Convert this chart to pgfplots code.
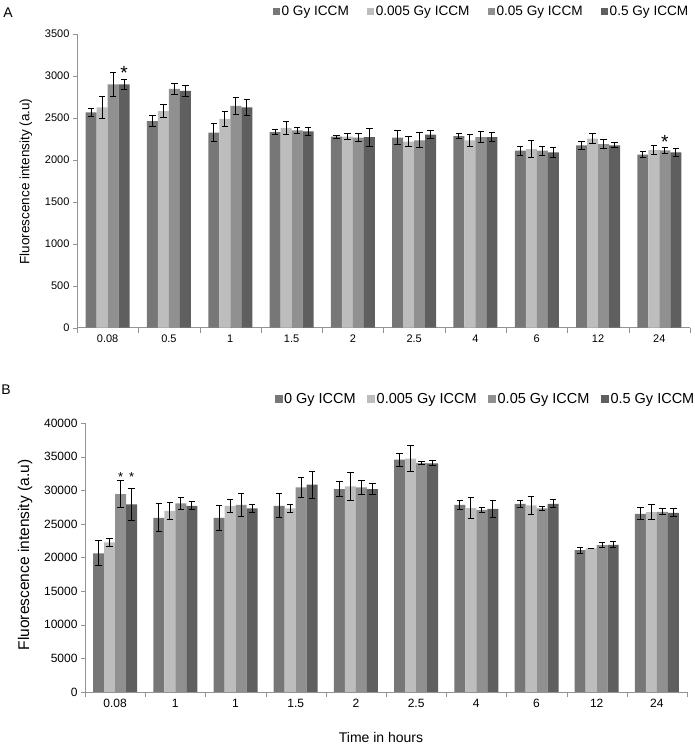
\documentclass[border=0pt]{standalone}
\usepackage{pgfplots}
\usepackage{pgfplotstable}
\pgfplotsset{compat=1.18}
\usepackage{fontspec}
\setmainfont{Liberation Sans}
\definecolor{cA}{HTML}{777777}
\definecolor{cB}{HTML}{BDBDBD}
\definecolor{cC}{HTML}{909090}
\definecolor{cD}{HTML}{5F5F5F}
\pgfplotstableread{
x a ea b eb c ec d ed
0 2566 50 2626 135 2900 145 2900 60
1 2463 70 2582 75 2845 62 2821 67
2 2324 110 2487 90 2642 97 2626 97
3 2332 24 2380 72 2352 34 2340 46
4 2276 16 2276 36 2264 46 2272 107
5 2264 80 2217 60 2233 90 2300 46
6 2284 26 2233 68 2272 62 2272 52
7 2109 54 2129 103 2109 54 2089 58
8 2173 44 2252 58 2189 56 2173 28
9 2062 34 2117 58 2113 38 2089 46
}\topdata
\pgfplotstableread{
x a ea b eb c ec d ed
0 20596 1860 22233 550 29429 2000 27890 2350
1 25906 2100 26948 1240 28040 920 27692 600
2 25906 1890 27692 990 27841 1710 27295 600
3 27692 1790 27295 570 30422 1540 30819 2030
4 30174 1070 30571 2060 30422 1070 30174 840
5 34541 970 34690 1960 34045 270 33995 370
6 27841 650 27345 1560 27097 350 27246 1240
7 27990 520 27742 1340 27295 270 27990 620
8 21092 450 21340 60 21836 350 21886 470
9 26501 890 26749 1120 26799 420 26650 600
}\botdata
\pgfplotsset{
  excel/.style={
    scale only axis,
    ybar=0pt, bar width=11pt,
    xmin=-0.5, xmax=9.5,
    xtick={0,...,9},
    major x tick style={draw=none},
    minor xtick={-0.5,0.5,...,9.5},
    minor tick length=5pt,
    major tick length=4pt,
    axis x line*=bottom, axis y line*=left,
    axis line style={draw=gray!85,-},
    tick align=outside,
    ytick style={draw=gray!85},
    minor x tick style={draw=gray!85},
    /pgf/number format/assume math mode=true,
    /pgf/number format/1000 sep={},
    scaled y ticks=false,
    legend columns=4,
    legend style={draw=none, fill=none, inner sep=0pt, nodes={inner sep=1.5pt}},
  },
  errs/.style={
    error bars/y dir=both, error bars/y explicit,
    error bars/error bar style={black, line width=1pt},
    error bars/error mark options={rotate=90, mark size=3.2pt, black, line width=1pt},
  },
  serA/.style={fill=cA, draw=none, errs},
  serB/.style={fill=cB, draw=none, errs},
  serC/.style={fill=cC, draw=none, errs},
  serD/.style={fill=cD, draw=none, errs},
}
\begin{document}
\begin{tikzpicture}[x=1pt,y=1pt]
\useasboundingbox (0,0) rectangle (695,746);
% Panel A
\begin{axis}[excel, at={(77pt,418.3pt)}, anchor=south west,
  width=613pt, height=293.7pt,
  ymin=0, ymax=3500, ytick={0,500,...,3500},
  xticklabels={0.08,0.5,1,1.5,2,2.5,4,6,12,24},
  tick label style={font=\fontsize{11}{13}\selectfont},
  legend style={at={(1,1)}, anchor=south east, yshift=15pt,
    font=\fontsize{13.6}{15}\selectfont,
    /tikz/every even column/.append style={column sep=17pt}},
  legend image code/.code={\fill[#1] (0pt,-3.5pt) rectangle (7pt,3.5pt);},
]
\addplot[serA] table[x=x,y=a,y error=ea]{\topdata};
\addplot[serB] table[x=x,y=b,y error=eb]{\topdata};
\addplot[serC] table[x=x,y=c,y error=ec]{\topdata};
\addplot[serD] table[x=x,y=d,y error=ed]{\topdata};
\legend{0 Gy ICCM,0.005 Gy ICCM,0.05 Gy ICCM,0.5 Gy ICCM}
\node[font=\fontsize{19}{19}\selectfont] at (axis cs:0.269,3040) {*};
\node[font=\fontsize{19}{19}\selectfont] at (axis cs:9.09,2215) {*};
\end{axis}
% Panel B
\begin{axis}[excel, at={(85pt,54pt)}, anchor=south west,
  width=602pt, height=269pt,
  ymin=0, ymax=40000, ytick={0,5000,...,40000},
  xticklabels={0.08,1,1,1.5,2,2.5,4,6,12,24},
  tick label style={font=\fontsize{12}{14}\selectfont},
  legend style={at={(1,1)}, anchor=south east, xshift=9pt, yshift=16pt,
    font=\fontsize{14.5}{16}\selectfont,
    /tikz/every even column/.append style={column sep=10pt}},
  legend image code/.code={\fill[#1] (0pt,-4pt) rectangle (8pt,4pt);},
]
\addplot[serA] table[x=x,y=a,y error=ea]{\botdata};
\addplot[serB] table[x=x,y=b,y error=eb]{\botdata};
\addplot[serC] table[x=x,y=c,y error=ec]{\botdata};
\addplot[serD] table[x=x,y=d,y error=ed]{\botdata};
\legend{0 Gy ICCM,0.005 Gy ICCM,0.05 Gy ICCM,0.5 Gy ICCM}
\node[font=\fontsize{13}{13}\selectfont] at (axis cs:0.091,32000) {*};
\node[font=\fontsize{13}{13}\selectfont] at (axis cs:0.274,32000) {*};
\end{axis}
\node[font=\fontsize{14}{14}\selectfont] at (8,733) {A};
\node[font=\fontsize{14}{14}\selectfont] at (6,356) {B};
\node[rotate=90, font=\fontsize{13.5}{15}\selectfont] at (26,564.5) {Fluorescence intensity (a.u)};
\node[rotate=90, font=\fontsize{15.5}{17}\selectfont] at (25,191) {Fluorescence intensity (a.u)};
\node[font=\fontsize{14}{16}\selectfont] at (381,9) {Time in hours};
\end{tikzpicture}
\end{document}
